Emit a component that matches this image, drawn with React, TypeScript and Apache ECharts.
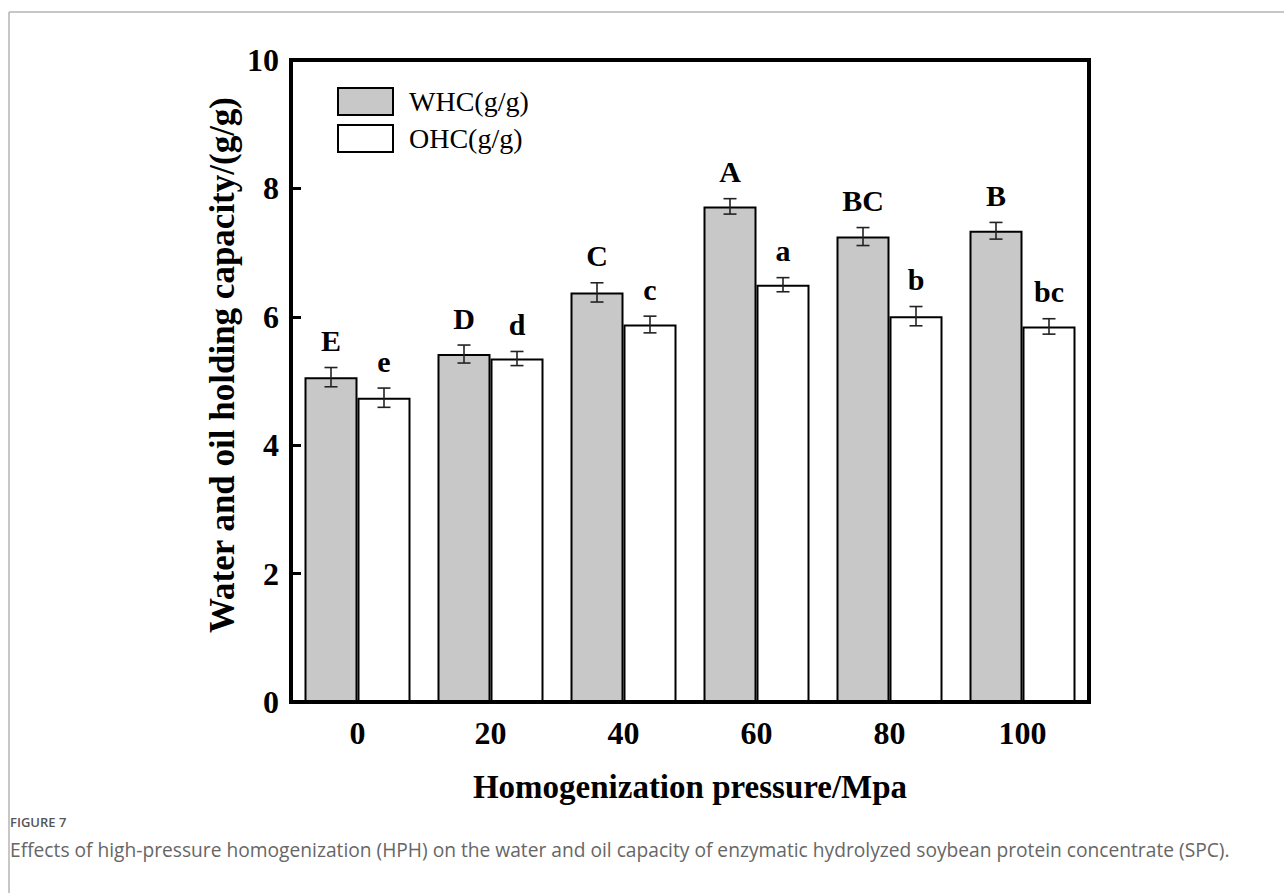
import React, { useEffect, useRef } from "react";
import * as echarts from "echarts";

const categories = ["0", "20", "40", "60", "80", "100"];
const whc = [5.06, 5.42, 6.38, 7.72, 7.25, 7.34];
const ohc = [4.74, 5.35, 5.88, 6.5, 6.01, 5.85];
const whcErr = [0.15, 0.14, 0.15, 0.12, 0.14, 0.13];
const ohcErr = [0.15, 0.11, 0.13, 0.11, 0.15, 0.12];
const whcLetters = ["E", "D", "C", "A", "BC", "B"];
const ohcLetters = ["e", "d", "c", "a", "b", "bc"];
const yTicks = { min: 0, max: 10, interval: 2 };

const SERIF = "'Liberation Serif', 'Times New Roman', serif";
const BAR_W = 53;

function errSeries(values: number[], errs: number[], letters: string[], offset: number) {
  return {
    type: "custom",
    silent: true,
    z: 5,
    data: values.map((v, i) => [i, v, errs[i]]),
    renderItem: (params: any, api: any) => {
      const idx = api.value(0);
      const v = api.value(1);
      const e = api.value(2);
      const c = api.coord([idx, v]);
      const x = c[0] + offset;
      const top = api.coord([idx, v + e])[1];
      const bot = api.coord([idx, v - e])[1];
      const cap = 6.5;
      const ls = { stroke: "#222", lineWidth: 1.6 };
      return {
        type: "group",
        children: [
          { type: "line", shape: { x1: x, y1: top, x2: x, y2: bot }, style: ls },
          { type: "line", shape: { x1: x - cap, y1: top, x2: x + cap, y2: top }, style: ls },
          { type: "line", shape: { x1: x - cap, y1: bot, x2: x + cap, y2: bot }, style: ls },
          {
            type: "text",
            x: x,
            y: top - 27,
            style: {
              text: letters[params.dataIndex],
              fontFamily: SERIF,
              fontWeight: "bold",
              fontSize: 30,
              fill: "#000",
              align: "center",
              verticalAlign: "middle",
            },
          },
        ],
      };
    },
  };
}

export default function App() {
  const ref = useRef<HTMLDivElement>(null);
  useEffect(() => {
    const chart = echarts.init(ref.current!, undefined, { renderer: "svg" });
    chart.setOption({
      animation: false,
      backgroundColor: "#fff",
      grid: {
        left: 291,
        right: 195,
        top: 60,
        bottom: 191,
        show: true,
        borderColor: "#000",
        borderWidth: 4,
        backgroundColor: "transparent",
      },
      legend: {
        orient: "vertical",
        left: 332,
        top: 82,
        itemWidth: 55,
        itemHeight: 27,
        itemGap: 8,
        icon: "rect",
        selectedMode: false,
        data: [
          { name: "WHC(g/g)", itemStyle: { color: "#c8c8c8", borderColor: "#000", borderWidth: 2 } },
          { name: "OHC(g/g)", itemStyle: { color: "#fff", borderColor: "#000", borderWidth: 2 } },
        ],
        textStyle: {
          fontFamily: SERIF,
          fontSize: 28,
          color: "#000",
          padding: [0, 0, 0, 11],
        },
      },
      xAxis: {
        type: "category",
        data: categories,
        z: 10,
        name: "Homogenization pressure/Mpa",
        nameLocation: "middle",
        nameGap: 68,
        nameTextStyle: { fontFamily: SERIF, fontWeight: "bold", fontSize: 33, color: "#000" },
        axisLine: { lineStyle: { color: "#000", width: 4 } },
        axisTick: { inside: true, alignWithLabel: true, length: 10, lineStyle: { color: "#000", width: 3.5 } },
        axisLabel: { fontFamily: SERIF, fontWeight: "bold", fontSize: 32, color: "#000", margin: 15 },
      },
      yAxis: {
        type: "value",
        min: yTicks.min,
        max: yTicks.max,
        interval: yTicks.interval,
        z: 10,
        axisLine: { show: true, lineStyle: { color: "#000", width: 4 } },
        axisTick: { show: true, inside: true, length: 10, lineStyle: { color: "#000", width: 3 } },
        splitLine: { show: false },
        axisLabel: { fontFamily: SERIF, fontWeight: "bold", fontSize: 32, color: "#000", margin: 12 },
      },
      series: [
        {
          name: "WHC(g/g)",
          type: "bar",
          data: whc,
          barWidth: BAR_W,
          barGap: "0%",
          itemStyle: { color: "#c8c8c8", borderColor: "#000", borderWidth: 2 },
        },
        {
          name: "OHC(g/g)",
          type: "bar",
          data: ohc,
          barWidth: BAR_W,
          barGap: "0%",
          itemStyle: { color: "#fff", borderColor: "#000", borderWidth: 2 },
        },
        errSeries(whc, whcErr, whcLetters, -BAR_W / 2),
        errSeries(ohc, ohcErr, ohcLetters, BAR_W / 2),
      ],
      graphic: [
        { type: "line", shape: { x1: 9, y1: 12, x2: 1284, y2: 12 }, style: { stroke: "#b4b4b4", lineWidth: 1.5 } },
        { type: "line", shape: { x1: 9, y1: 12, x2: 9, y2: 893 }, style: { stroke: "#b4b4b4", lineWidth: 1.5 } },
        {
          type: "text",
          x: 222,
          y: 365,
          rotation: Math.PI / 2,
          style: {
            text: "Water and oil holding capacity/(g/g)",
            fontFamily: SERIF,
            fontWeight: "bold",
            fontSize: 35,
            fill: "#000",
            align: "center",
            verticalAlign: "middle",
          },
        },
        {
          type: "text",
          x: 10,
          y: 822,
          style: {
            text: "FIGURE 7",
            fontFamily: "'Open Sans', sans-serif",
            fontSize: 13,
            fontWeight: 600,
            fill: "#555",
            verticalAlign: "middle",
          },
        },
        {
          type: "text",
          x: 10,
          y: 849,
          style: {
            text:
              "Effects of high-pressure homogenization (HPH) on the water and oil capacity of enzymatic hydrolyzed soybean protein concentrate (SPC).",
            fontFamily: "'Open Sans', sans-serif",
            fontSize: 19.2,
            fill: "#666",
            verticalAlign: "middle",
          },
        },
      ],
    });
    return () => chart.dispose();
  }, []);
  return (
    <div
      ref={ref}
      style={{ position: "absolute", left: 0, top: 0, width: 1284, height: 893, background: "#fff" }}
    />
  );
}
